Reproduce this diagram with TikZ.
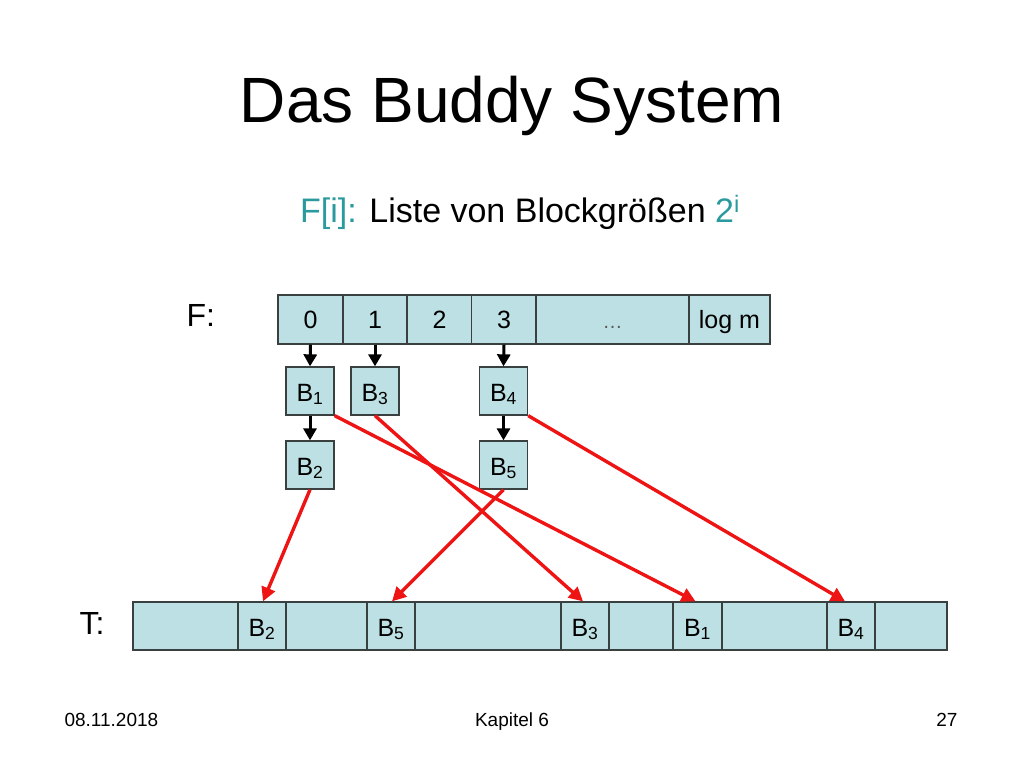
\documentclass[tikz,border=0pt]{standalone}
\usepackage{fontspec}
\setmainfont{Liberation Sans}
\usepackage{tikz}
\usepackage{xcolor}
\usetikzlibrary{arrows.meta}

\definecolor{cellfill}{HTML}{BCE0E3}
\definecolor{celledge}{HTML}{3A3F40}
\definecolor{teal}{HTML}{2A9A9E}
\definecolor{arrred}{HTML}{EE1414}

\begin{document}
\begin{tikzpicture}[x=1pt, y=-1pt,
    cell/.style={draw=celledge, fill=cellfill, line width=1.3pt, inner sep=0pt,
        minimum height=48pt, font=\fontsize{25}{25}\selectfont},
    fcell/.style={cell, minimum height=49pt, text height=18pt, text depth=0pt},
    blk/.style={cell, minimum width=48pt, text height=20pt, text depth=0pt},
    down/.style={line width=3pt, -{Triangle[length=12pt,width=13pt]}},
    redarr/.style={arrred, line width=3.4pt, -{Triangle[length=14pt,width=14pt]}}]
    \useasboundingbox (0,0) rectangle (1024,768);

    % titles
    \node[anchor=base, font=\fontsize{64}{64}\selectfont] (title) at (512,122) {Das Buddy System};
    \node[anchor=base, font=\fontsize{34}{34}\selectfont] (sub) at (520,222)
        {\textcolor{teal}{F[i]:} Liste von Blockgrößen \textcolor{teal}{2\textsuperscript{i}}};

    % array F
    \node[anchor=base west, font=\fontsize{32}{32}\selectfont] (flabel) at (183,326) {F:};
    \node[fcell, minimum width=65pt] (f0) at (310.5,319.5) {0};
    \node[fcell, minimum width=64pt] (f1) at (375,319.5) {1};
    \node[fcell, minimum width=64pt] (f2) at (439.5,319.5) {2};
    \node[fcell, minimum width=65pt] (f3) at (504,319.5) {3};
    \node[fcell, minimum width=153pt, text=black!65] (fdots) at (612.5,319.5) {\fontsize{20}{20}\selectfont\dots};
    \node[fcell, minimum width=81pt] (flog) at (729.5,319.5) {log m};

    % free lists
    \node[blk] (b1) at (310,391) {B\textsubscript{1}};
    \node[blk] (b3) at (375,391) {B\textsubscript{3}};
    \node[blk] (b4) at (503.5,391) {B\textsubscript{4}};
    \node[blk] (b2) at (310,465) {B\textsubscript{2}};
    \node[blk] (b5) at (503.5,465) {B\textsubscript{5}};

    \draw[down] (f0.south) -- (b1.north);
    \draw[down] (f1.south) -- (b3.north);
    \draw[down] (f3.south) -- (b4.north);
    \draw[down] (b1.south) -- (b2.north);
    \draw[down] (b4.south) -- (b5.north);

    % array T
    \node[anchor=base west, font=\fontsize{32}{32}\selectfont] (tlabel) at (76,634) {T:};
    \node[cell, minimum width=105pt] (t0) at (185.5,626) {};
    \node[blk] (tb2) at (262,626) {B\textsubscript{2}};
    \node[cell, minimum width=81pt] (t1) at (326.5,626) {};
    \node[blk] (tb5) at (391,626) {B\textsubscript{5}};
    \node[cell, minimum width=146pt] (t2) at (488,626) {};
    \node[blk] (tb3) at (585,626) {B\textsubscript{3}};
    \node[cell, minimum width=64pt] (t3) at (641,626) {};
    \node[blk] (tb1) at (697.5,626) {B\textsubscript{1}};
    \node[cell, minimum width=105pt] (t4) at (774.5,626) {};
    \node[blk] (tb4) at (851,626) {B\textsubscript{4}};
    \node[cell, minimum width=72pt] (t5) at (911,626) {};

    % where the blocks sit in T
    \draw[redarr] (b2.south) -- ([xshift=1pt]tb2.north);
    \draw[redarr] (b5.south) -- ([xshift=1pt]tb5.north);
    \draw[redarr] (b3.south) -- ([xshift=-2pt]tb3.north);
    \draw[redarr] (b1.south east) -- ([xshift=-2pt]tb1.north);
    \draw[redarr] (b4.south east) -- ([xshift=-6pt]tb4.north);

    % footer
    \node[anchor=base west, font=\fontsize{19}{19}\selectfont] (date) at (61,726) {08.11.2018};
    \node[anchor=base, font=\fontsize{19}{19}\selectfont] (chap) at (512,726) {Kapitel 6};
    \node[anchor=base east, font=\fontsize{19}{19}\selectfont] (page) at (961,726) {27};
\end{tikzpicture}
\end{document}
